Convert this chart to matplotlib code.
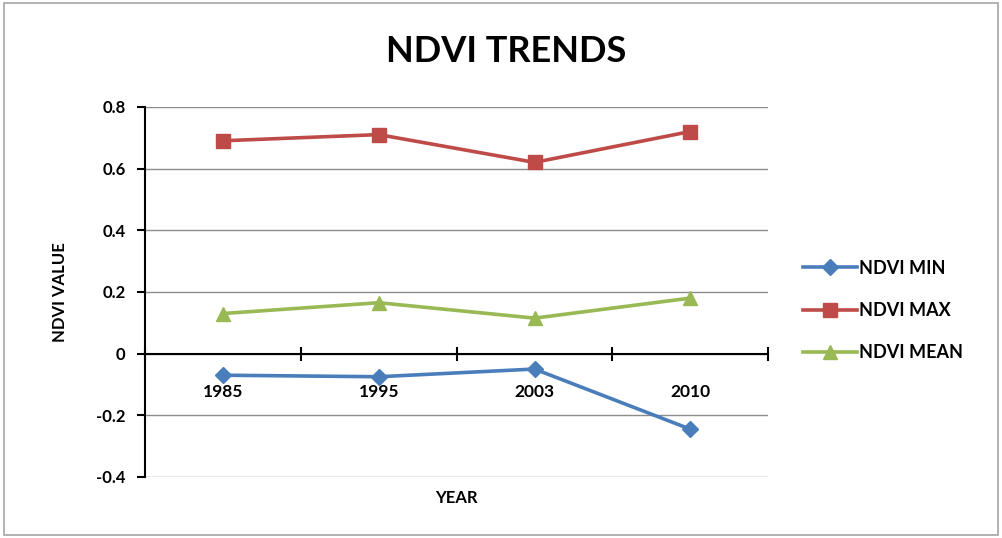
import matplotlib
matplotlib.use("Agg")
from matplotlib import pyplot as plt
from matplotlib.patches import Rectangle
import numpy as np

years = ["1985", "1995", "2003", "2010"]
ndvi_min = [-0.07, -0.075, -0.05, -0.245]
ndvi_max = [0.69, 0.71, 0.62, 0.72]
ndvi_mean = [0.13, 0.165, 0.115, 0.18]
y_ticks = [-0.4, -0.2, 0, 0.2, 0.4, 0.6, 0.8]
y_tick_labels = ["-0.4", "-0.2", "0", "0.2", "0.4", "0.6", "0.8"]

plt.rcParams["font.family"] = ["Lato", "DejaVu Sans"]
plt.rcParams["font.weight"] = "bold"

fig = plt.figure(figsize=(10.02, 5.38), dpi=100)
fig.patches.append(Rectangle((0.004, 0.006), 0.992, 0.988, transform=fig.transFigure,
                             fill=False, edgecolor="#a6a6a6", linewidth=1.2))
ax = fig.add_axes([0.1447, 0.1134, 0.622, 0.688])

x = np.arange(len(years))
ax.plot(x, ndvi_min, color="#4A7EBB", lw=2.6, marker="D", ms=8, label="NDVI MIN")
ax.plot(x, ndvi_max, color="#BE4B48", lw=2.6, marker="s", ms=10, label="NDVI MAX")
ax.plot(x, ndvi_mean, color="#98B954", lw=2.6, marker="^", ms=10, label="NDVI MEAN")

ax.set_xlim(-0.5, len(years) - 0.5)
ax.set_ylim(-0.4, 0.8)
ax.set_yticks(y_ticks)
ax.set_yticklabels(y_tick_labels, fontsize=12, fontweight="bold")
ax.yaxis.grid(True, color="#8c8c8c", lw=1)
ax.set_axisbelow(True)

ax.spines["top"].set_visible(False)
ax.spines["right"].set_visible(False)
ax.spines["bottom"].set_position(("data", 0))
ax.spines["bottom"].set_linewidth(1.5)
ax.spines["left"].set_linewidth(1.5)

ax.set_xticks(np.arange(-0.5, len(years)))
ax.set_xticklabels([])
ax.tick_params(axis="x", which="major", direction="inout", length=10, width=1.5)
ax.set_xticks(x, minor=True)
ax.set_xticklabels(years, minor=True, fontsize=12.5, fontweight="bold")
ax.tick_params(axis="x", which="minor", length=0, pad=22)
ax.tick_params(axis="y", direction="out", length=6, width=1.5, pad=8)

ax.set_ylabel("NDVI VALUE", fontsize=12, fontweight="bold", labelpad=20)
fig.text(0.455, 0.075, "YEAR", ha="center", va="center", fontsize=12, fontweight="bold")
fig.text(0.505, 0.905, "NDVI TRENDS", ha="center", va="center", fontsize=26, fontweight="bold")

ax.legend(loc="center left", bbox_to_anchor=(1.03, 0.45), frameon=False,
          prop={"weight": "bold", "size": 13}, handlelength=3.0, labelspacing=1.4,
          handletextpad=0.1)

fig.savefig("out.png", dpi=100)
